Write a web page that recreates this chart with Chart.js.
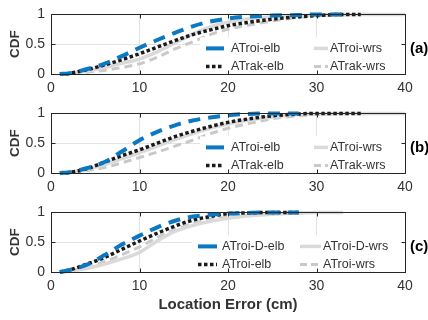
<!DOCTYPE html>
<html>
<head>
<meta charset="utf-8">
<script src="https://cdn.jsdelivr.net/npm/chart.js@4/dist/chart.umd.min.js"></script>
<style>
  body { margin: 0; background: #fff; width: 428px; height: 320px; overflow: hidden; position: relative; }
  canvas { position: absolute; left: 0; }
</style>
</head>
<body>
<canvas id="chartA" width="428" height="99" style="top:0"></canvas>
<canvas id="chartB" width="428" height="99" style="top:99px"></canvas>
<canvas id="chartC" width="428" height="122" style="top:198px"></canvas>
<script>
// ---------------- Data ----------------
const xs = [1, 2, 4, 6, 8, 10, 12, 14, 16, 18, 20, 22, 25, 28, 30, 33, 35, 40];
const xTicks = [0, 10, 20, 30, 40];
const yTicks = [0, 0.5, 1];

// (a)
const labelsA = ['ATroi-elb', 'ATrak-elb', 'ATroi-wrs', 'ATrak-wrs'];
const troiElbA = [0, .01, .08, .17, .30, .44, .57, .69, .80, .88, .93, .96, .98, .99, 1, 1, null, null];
const trakElbA = [0, .01, .07, .15, .24, .34, .45, .56, .66, .74, .81, .86, .92, .96, .98, 1, 1, null];
const troiWrsA = [0, .01, .05, .11, .18, .25, .37, .52, .67, .79, .87, .92, .96, .98, .99, 1, 1, 1];
const trakWrsA = [0, .01, .03, .06, .11, .17, .28, .42, .54, .66, .75, .81, .89, .95, .98, .99, 1, 1];

// (b)
const labelsB = ['ATroi-elb', 'ATrak-elb', 'ATroi-wrs', 'ATrak-wrs'];
const troiElbB = [0, .01, .08, .18, .36, .55, .69, .80, .88, .93, .97, .99, 1, 1, null, null, null, null];
const trakElbB = [0, .01, .07, .18, .29, .39, .50, .61, .70, .78, .85, .90, .96, .99, 1, 1, 1, null];
const troiWrsB = [0, .01, .06, .14, .24, .34, .45, .56, .66, .75, .82, .88, .94, .98, .99, 1, 1, 1];
const trakWrsB = [0, .01, .04, .09, .17, .26, .35, .45, .55, .66, .75, .82, .91, .96, .98, 1, 1, 1];

// (c)
const labelsC = ['ATroi-D-elb', 'ATroi-elb', 'ATroi-D-wrs', 'ATroi-wrs'];
const troiDElbC = [0, .03, .12, .28, .46, .61, .75, .86, .93, .96, .98, .99, 1, 1, null, null, null, null];
const troiElbC = [0, .03, .13, .24, .38, .52, .65, .77, .87, .93, .98, .99, 1, 1, null, null, null, null];
const troiDWrsC = [0, .01, .06, .13, .22, .33, .52, .68, .78, .85, .90, .94, .97, .99, 1, 1, null, null];
const troiWrsC = [0, .02, .08, .17, .29, .42, .58, .71, .81, .88, .92, .95, .98, .99, 1, 1, null, null];


// ---------------- Styles ----------------
const FONT = '"Liberation Sans", Arial, Helvetica, sans-serif';
const AXIS = '#333333';

const styles = [
    { borderColor: '#0a78c2', borderWidth: 4, borderDash: [12, 8], legendDash: [] },
    { borderColor: '#1a1a1a', borderWidth: 3.5, borderDash: [3.5, 2.5], legendDash: [3.5, 2.5] },
    { borderColor: '#dadada', borderWidth: 3.5, borderDash: [], legendDash: [] },
    { borderColor: '#c9c9c9', borderWidth: 3, borderDash: [8, 5], legendDash: [7, 4] }
];

function makeDatasets(labels, series) {
    return series.map((vals, i) => Object.assign({
        label: labels[i],
        data: xs.map((x, j) => ({ x: x, y: vals[j] })),
        pointRadius: 0,
        fill: false,
        cubicInterpolationMode: 'monotone',
        spanGaps: false,
        clip: 5
    }, styles[i]));
}


// ---------------- Legend / box plugin ----------------
const panelPlugin = {
    id: 'panel',
    afterDatasetsDraw(chart, args, opts) {
        const { ctx, chartArea: a } = chart;
        ctx.save();
        ctx.fillStyle = '#fff';
        ctx.fillRect(opts.boxLeft, a.top + 23, a.right - 1 - opts.boxLeft, 39);
        ctx.font = '12.5px ' + FONT;
        ctx.textBaseline = 'middle';
        chart.data.datasets.forEach((ds, i) => {
            const col = opts.cols[Math.floor(i / 2)];
            const y = a.top + (i % 2 ? 52 : 34);
            ctx.strokeStyle = ds.borderColor;
            ctx.lineWidth = ds.borderWidth;
            ctx.setLineDash(ds.legendDash);
            ctx.beginPath();
            ctx.moveTo(col[0], y);
            ctx.lineTo(col[1], y);
            ctx.stroke();
            ctx.setLineDash([]);
            ctx.fillStyle = AXIS;
            ctx.fillText(ds.label, col[2], y + 0.5);
        });
        ctx.restore();
    },
    afterDraw(chart, args, opts) {
        const { ctx, chartArea: a, scales } = chart;
        ctx.save();
        ctx.strokeStyle = '#262626';
        ctx.lineWidth = 1;
        const l = Math.round(a.left) + 0.5, r = Math.round(a.right) + 0.5;
        const t = Math.round(a.top) + 0.5, b = Math.round(a.bottom) + 0.5;
        ctx.strokeRect(l, t, r - l, b - t);
        // inward tick marks
        ctx.beginPath();
        xTicks.forEach(v => {
            const px = Math.round(scales.x.getPixelForValue(v)) + 0.5;
            ctx.moveTo(px, b); ctx.lineTo(px, b - 4);
            ctx.moveTo(px, t); ctx.lineTo(px, t + 4);
        });
        yTicks.forEach(v => {
            const py = Math.round(scales.y.getPixelForValue(v)) + 0.5;
            ctx.moveTo(l, py); ctx.lineTo(l + 4, py);
            ctx.moveTo(r, py); ctx.lineTo(r - 4, py);
        });
        ctx.stroke();
        ctx.fillStyle = '#000';
        ctx.font = 'bold 15px ' + FONT;
        ctx.textBaseline = 'middle';
        ctx.fillText(opts.tag, 410, a.top + 34);
        ctx.restore();
    }
};


// ---------------- Chart Init ----------------
function makeChart(id, labels, series, tag, legendOpts, withTitle) {
    const canvas = document.getElementById(id);
    const H = canvas.height;
    return new Chart(canvas.getContext('2d'), {
        type: 'line',
        data: { datasets: makeDatasets(labels, series) },
        options: {
            responsive: false,
            animation: false,
            layout: { padding: { top: 11, right: 23, left: 0, bottom: 0 } },
            plugins: {
                legend: { display: false },
                tooltip: { enabled: false },
                panel: Object.assign({ tag: tag }, legendOpts)
            },
            scales: {
                x: {
                    type: 'linear',
                    min: 0, max: 40,
                    afterBuildTicks: s => { s.ticks = xTicks.map(v => ({ value: v })); },
                    afterFit: s => { s.height = H - 74; },
                    grid: { color: '#e3e3e3', drawTicks: false },
                    border: { display: false },
                    ticks: { color: AXIS, font: { size: 14, family: FONT }, padding: 6, maxRotation: 0,
                             callback: v => String(v) },
                    title: {
                        display: withTitle,
                        text: 'Location Error (cm)',
                        color: AXIS,
                        font: { size: 15, weight: 'bold', family: FONT },
                        padding: { top: 0, bottom: 6 }
                    }
                },
                y: {
                    min: 0, max: 1,
                    afterBuildTicks: s => { s.ticks = yTicks.map(v => ({ value: v })); },
                    afterFit: s => { s.width = 51; },
                    grid: { color: '#e3e3e3', drawTicks: false },
                    border: { display: false },
                    ticks: { color: AXIS, font: { size: 14, family: FONT }, padding: 6,
                             callback: v => String(v) },
                    title: {
                        display: true,
                        text: 'CDF',
                        color: AXIS,
                        font: { size: 13.5, weight: 'bold', family: FONT },
                        padding: { top: 7, bottom: 0 }
                    }
                }
            }
        },
        plugins: [panelPlugin]
    });
}

const legendAB = { boxLeft: 200, cols: [[206, 224, 231], [314, 328, 330]] };
const legendC = { boxLeft: 192, cols: [[198, 217, 222], [300, 321, 323]] };

makeChart('chartA', labelsA, [troiElbA, trakElbA, troiWrsA, trakWrsA], '(a)', legendAB, false);
makeChart('chartB', labelsB, [troiElbB, trakElbB, troiWrsB, trakWrsB], '(b)', legendAB, false);
makeChart('chartC', labelsC, [troiDElbC, troiElbC, troiDWrsC, troiWrsC], '(c)', legendC, true);
</script>
</body>
</html>
